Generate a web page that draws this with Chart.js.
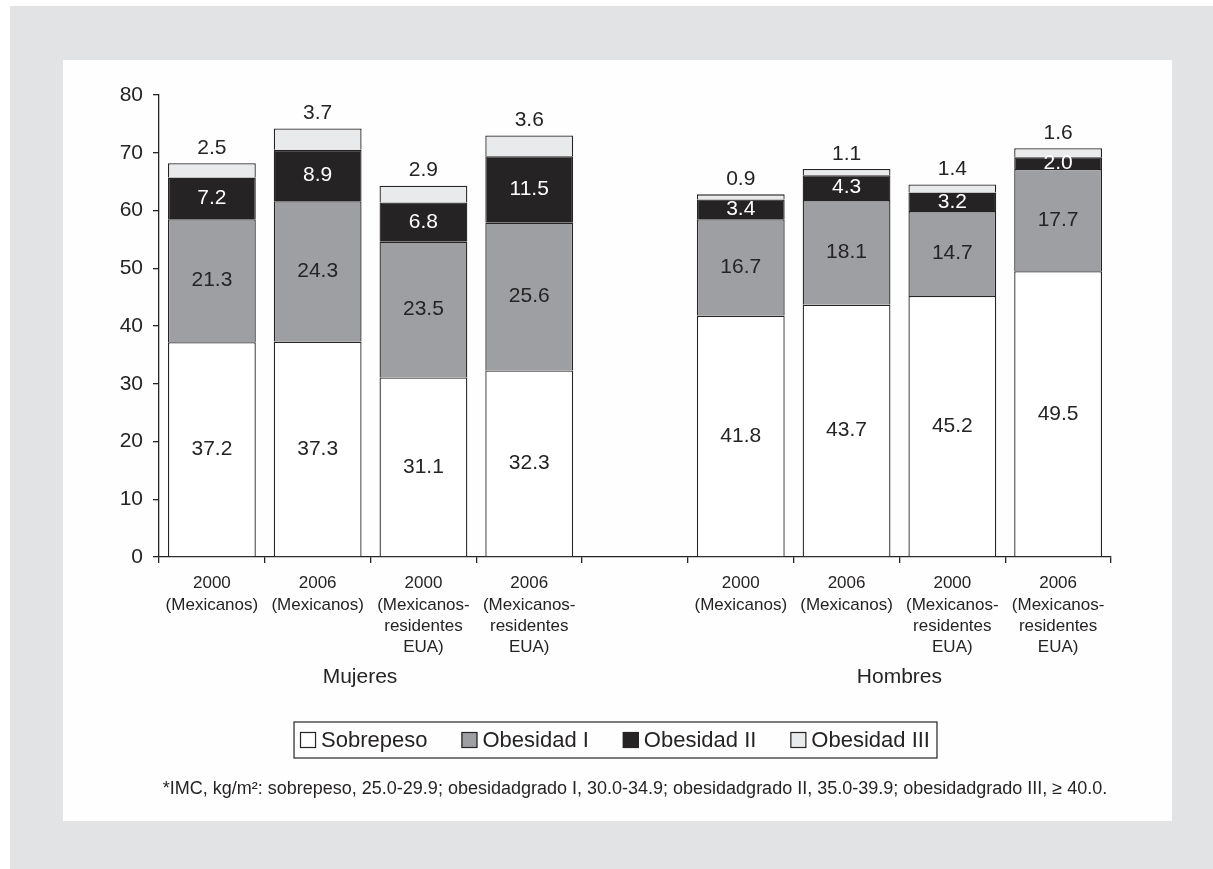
<!DOCTYPE html>
<html>
<head>
<meta charset="utf-8">
<script src="https://cdn.jsdelivr.net/npm/chart.js@4.4.0/dist/chart.umd.min.js"></script>
<style>
  html, body { margin: 0; padding: 0; background: #fff; }
  body { width: 1213px; height: 869px; position: relative; overflow: hidden; }
  #bg { position: absolute; left: 10px; top: 6px; right: 0; bottom: 0; background: #e2e3e5; }
  #panel { position: absolute; left: 63px; top: 60px; width: 1109px; height: 761px; background: #fefefe; }
</style>
</head>
<body>
<div id="bg"></div>
<div id="panel"><canvas id="imcChart" width="1109" height="761"></canvas></div>
<script>
// categorias (la 5a queda vacia para separar Mujeres / Hombres)
const categories = [
  ['2000', '(Mexicanos)'],
  ['2006', '(Mexicanos)'],
  ['2000', '(Mexicanos-', 'residentes', 'EUA)'],
  ['2006', '(Mexicanos-', 'residentes', 'EUA)'],
  '',
  ['2000', '(Mexicanos)'],
  ['2006', '(Mexicanos)'],
  ['2000', '(Mexicanos-', 'residentes', 'EUA)'],
  ['2006', '(Mexicanos-', 'residentes', 'EUA)']
];
const groups = ['Mujeres', 'Hombres'];
const groupCenters = [1.4, 6.5];   // posicion en indices de categoria
const seriesNames = ['Sobrepeso', 'Obesidad I', 'Obesidad II', 'Obesidad III'];
const sobrepeso  = [37.2, 37.3, 31.1, 32.3, null, 41.8, 43.7, 45.2, 49.5];
const obesidad1  = [21.3, 24.3, 23.5, 25.6, null, 16.7, 18.1, 14.7, 17.7];
const obesidad2  = [7.2, 8.9, 6.8, 11.5, null, 3.4, 4.3, 3.2, 2.0];
const obesidad3  = [2.5, 3.7, 2.9, 3.6, null, 0.9, 1.1, 1.4, 1.6];
const yMin = 0, yMax = 80, yStep = 10;
const footnote = '*IMC, kg/m\u00b2: sobrepeso, 25.0-29.9; obesidadgrado I, 30.0-34.9; obesidadgrado II, 35.0-39.9; obesidadgrado III, \u2265 40.0.';

const INK = '#262325';
const FONT = '"Liberation Sans", Arial, Helvetica, sans-serif';
const fills = ['#ffffff', '#9d9fa2', '#262325', '#e9eaeb'];

// etiquetas de valores, grupos, leyenda con marco y nota al pie
const annotate = {
  id: 'annotate',
  afterDatasetsDraw(chart) {
    const ctx = chart.ctx;
    ctx.save();
    ctx.font = '21px ' + FONT;
    ctx.textAlign = 'center';
    ctx.textBaseline = 'middle';
    chart.data.datasets.forEach((ds, i) => {
      chart.getDatasetMeta(i).data.forEach((bar, j) => {
        const v = ds.data[j];
        if (v == null) return;
        const onTop = i === chart.data.datasets.length - 1;
        ctx.fillStyle = i === 2 ? '#ffffff' : INK;
        const y = onTop ? Math.min(bar.y, bar.base) - 15 : (bar.y + bar.base) / 2;
        ctx.fillText(v.toFixed(1), bar.x, y);
      });
    });
    ctx.restore();
  },
  afterDraw(chart) {
    const ctx = chart.ctx;
    const area = chart.chartArea;
    const xs = chart.scales.x;
    ctx.save();
    ctx.fillStyle = INK;
    ctx.textBaseline = 'middle';
    ctx.textAlign = 'center';

    // Mujeres / Hombres
    ctx.font = '21px ' + FONT;
    groups.forEach((g, k) => {
      ctx.fillText(g, xs.getPixelForValue(groupCenters[k]), area.bottom + 120);
    });

    // leyenda
    ctx.font = '22px ' + FONT;
    const box = 16, gapText = 5, gapItem = 34, padL = 6, padR = 7, h = 36;
    const widths = chart.data.datasets.map(ds => ctx.measureText(ds.label).width);
    const inner = widths.reduce((a, w) => a + box + gapText + w, 0) + gapItem * (widths.length - 1);
    const total = inner + padL + padR;
    const left = chart.width / 2 - 2 - total / 2;
    const top = area.bottom + 165;
    ctx.strokeStyle = INK;
    ctx.lineWidth = 1.2;
    ctx.strokeRect(left, top, total, h);
    let x = left + padL;
    ctx.textAlign = 'left';
    chart.data.datasets.forEach((ds, i) => {
      ctx.fillStyle = ds.backgroundColor;
      ctx.fillRect(x, top + 10, box, box);
      ctx.strokeRect(x + 0.5, top + 10.5, box - 1, box - 1);
      ctx.fillStyle = INK;
      ctx.fillText(ds.label, x + box + gapText, top + h / 2 + 1);
      x += box + gapText + widths[i] + gapItem;
    });

    // nota
    ctx.font = '18px ' + FONT;
    ctx.textAlign = 'center';
    ctx.fillText(footnote, (area.left + area.right) / 2, area.bottom + 232);
    ctx.restore();
  }
};

const seriesData = [sobrepeso, obesidad1, obesidad2, obesidad3];

new Chart(document.getElementById('imcChart'), {
  type: 'bar',
  data: {
    labels: categories,
    datasets: seriesNames.map((name, i) => ({
      label: name,
      data: seriesData[i],
      backgroundColor: fills[i],
      borderColor: INK,
      borderWidth: 1.3
    }))
  },
  options: {
    responsive: false,
    animation: false,
    layout: { padding: { top: 35, right: 61, bottom: 164, left: 0 } },
    datasets: { bar: { categoryPercentage: 1, barPercentage: 0.83 } },
    plugins: {
      legend: { display: false },
      tooltip: { enabled: false }
    },
    scales: {
      x: {
        stacked: true,
        offset: true,
        grid: { offset: true, drawOnChartArea: false, tickLength: 6, color: INK, lineWidth: 1.3 },
        border: { color: INK, width: 1.3 },
        ticks: {
          autoSkip: false, maxRotation: 0, padding: 10, color: INK,
          font: { family: FONT, size: 17, lineHeight: 1.25 }
        },
        afterFit(scale) { scale.height = 100; }
      },
      y: {
        stacked: true,
        min: yMin, max: yMax,
        grid: { drawOnChartArea: false, tickLength: 6, color: INK, lineWidth: 1.3 },
        border: { color: INK, width: 1.3 },
        ticks: { stepSize: yStep, padding: 10, color: INK, font: { family: FONT, size: 21 } },
        afterFit(scale) { scale.width = 96; }
      }
    }
  },
  plugins: [annotate]
});
</script>
</body>
</html>
